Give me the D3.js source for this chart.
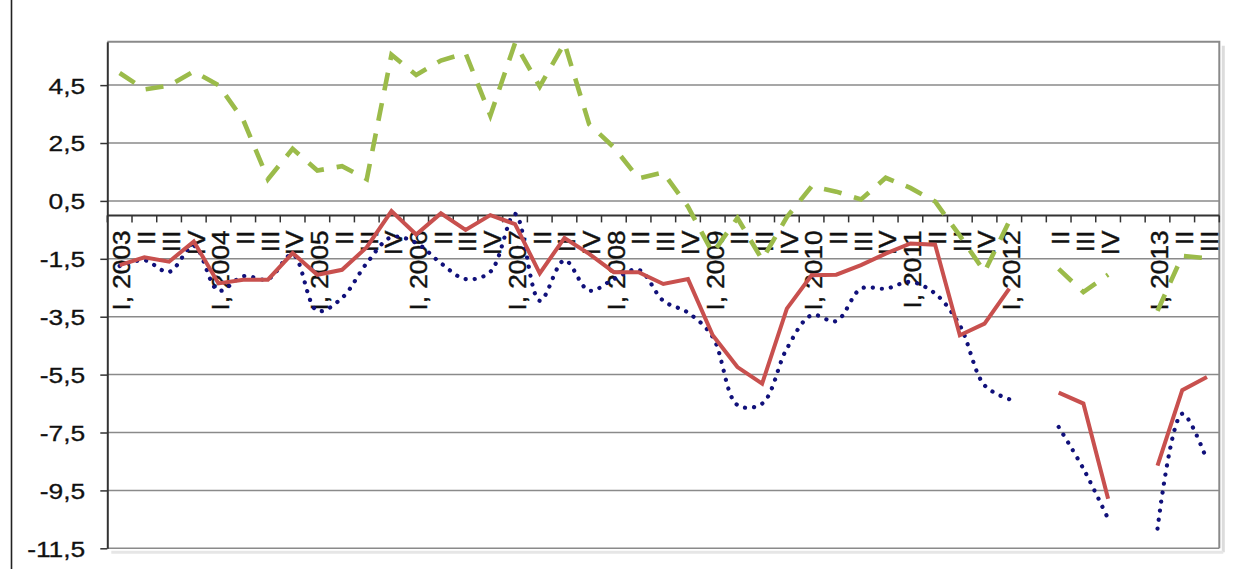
<!DOCTYPE html>
<html>
<head>
<meta charset="utf-8">
<script src="https://cdn.jsdelivr.net/npm/d3@7/dist/d3.min.js"></script>
<style>
  html, body { margin: 0; padding: 0; background: #ffffff; }
  svg { display: block; }
</style>
</head>
<body>
<svg id="chart" width="1234" height="569"></svg>
<script>
// Quarter labels; two empty slots separate the 2012 and 2013 blocks.
const categories = [
  "I, 2003", "II", "III", "IV",
  "I, 2004", "II", "III", "IV",
  "I, 2005", "II", "III", "IV",
  "I, 2006", "II", "III", "IV",
  "I, 2007", "II", "III", "IV",
  "I, 2008", "II", "III", "IV",
  "I, 2009", "II", "III", "IV",
  "I, 2010", "II", "III", "IV",
  "I, 2011", "II", "III", "IV",
  "I, 2012", "", "II", "III", "IV", "",
  "I, 2013", "II", "III"
];

// Solid red series
const redSeries = [
  -1.72, -1.45, -1.60, -0.90,
  -2.35, -2.22, -2.22, -1.30,
  -2.05, -1.88, -1.10, 0.15,
  -0.66, 0.07, -0.50, 0.01,
  -0.30, -2.00, -0.78, -1.33,
  -1.96, -1.96, -2.37, -2.20,
  -4.14, -5.24, -5.81, -3.22,
  -2.07, -2.05, -1.72, -1.32,
  -0.97, -1.01, -4.14, -3.74,
  -2.53, null, -6.12, -6.50, -9.79, null,
  -8.64, -6.04, -5.58
];

// Dotted blue series (smoothed)
const blueSeries = [
  -1.75, -1.55, -1.95, -1.05,
  -2.60, -2.10, -2.20, -1.35,
  -3.30, -2.85, -1.65, -0.75,
  -0.95, -1.65, -2.20, -1.95,
  0.05, -2.95, -1.55, -2.60,
  -2.20, -1.88, -2.95, -3.36,
  -4.20, -6.55, -6.50, -4.60,
  -3.45, -3.65, -2.53, -2.53,
  -2.30, -2.70, -3.80, -5.87,
  -6.35, null, -7.31, -8.75, -10.48, null,
  -10.82, -6.85, -8.46
];

// Dashed green series
const greenSeries = [
  4.92, 4.35, 4.48, 4.97,
  4.50, 3.30, 1.25, 2.30,
  1.55, 1.70, 1.25, 5.55,
  4.85, 5.35, 5.60, 3.45,
  5.95, 4.45, 5.95, 3.15,
  2.35, 1.28, 1.48, 0.30,
  -1.30, -0.09, -1.53, -0.06,
  1.00, 0.82, 0.55, 1.30,
  0.95, 0.48, -0.70, -1.95,
  -0.20, null, -1.85, -2.65, -2.05, null,
  -3.30, -1.40, -1.48
];

const yTicks = [4.5, 2.5, 0.5, -1.5, -3.5, -5.5, -7.5, -9.5, -11.5];
const yMin = -11.5, yMax = 6;

const svg = d3.select("#chart");
const W = 1234, H = 569;
const plot = { left: 107.3, right: 1219.3, top: 41.7, bottom: 548.3 };

const x = d3.scaleBand()
  .domain(d3.range(categories.length))
  .range([plot.left, plot.right])
  .paddingInner(0).paddingOuter(0);

const y = d3.scaleLinear()
  .domain([yMin, yMax])
  .range([plot.bottom, plot.top]);

const locale = d3.formatLocale({ decimal: ",", thousands: " ", grouping: [3], currency: ["", ""], minus: "-" });
const fmt = locale.format(".1f");

// Outer frame line on the left edge of the chart
svg.append("line")
  .attr("x1", 11.5).attr("x2", 11.5)
  .attr("y1", 0).attr("y2", H)
  .attr("stroke", "#222").attr("stroke-width", 1.6);

// Soft shadow along the plot area's right and bottom sides
svg.append("line")
  .attr("x1", plot.right + 4).attr("x2", plot.right + 4)
  .attr("y1", plot.top + 4).attr("y2", plot.bottom + 4)
  .attr("stroke", "#dcdcdc").attr("stroke-width", 3);
svg.append("line")
  .attr("x1", plot.left + 4).attr("x2", plot.right + 4)
  .attr("y1", plot.bottom + 4).attr("y2", plot.bottom + 4)
  .attr("stroke", "#e6e6e6").attr("stroke-width", 3);

// Horizontal gridlines
svg.append("g")
  .selectAll("line")
  .data(yTicks)
  .join("line")
  .attr("x1", plot.left).attr("x2", plot.right)
  .attr("y1", d => y(d)).attr("y2", d => y(d))
  .attr("stroke", "#8a8a8a").attr("stroke-width", 1.5);

// Plot area border (top and right)
svg.append("path")
  .attr("d", `M${plot.left},${plot.top}H${plot.right}V${plot.bottom}`)
  .attr("fill", "none").attr("stroke", "#8a8a8a").attr("stroke-width", 2);

// Y axis
const yAxis = d3.axisLeft(y)
  .tickValues(yTicks)
  .tickSize(7)
  .tickSizeOuter(0)
  .tickFormat(fmt);
const gy = svg.append("g")
  .attr("transform", `translate(${plot.left},0)`)
  .call(yAxis);
gy.select(".domain").attr("stroke", "#333").attr("stroke-width", 2);
gy.selectAll(".tick line").attr("stroke", "#333").attr("stroke-width", 1.5);
gy.selectAll(".tick text")
  .attr("x", 0).attr("dx", 0).attr("dy", "0.36em")
  .attr("text-anchor", "end")
  .attr("transform", "translate(-22,0) scale(1.2,1)")
  .attr("font-family", "'Liberation Sans', Arial, sans-serif")
  .attr("font-size", 22)
  .attr("fill", "#111")
  .attr("stroke", "#111")
  .attr("stroke-width", 0.3);

// X axis along zero, with boundary ticks between categories
const zeroY = y(0);
const gx = svg.append("g");
gx.append("line")
  .attr("x1", plot.left).attr("x2", plot.right)
  .attr("y1", zeroY).attr("y2", zeroY)
  .attr("stroke", "#333").attr("stroke-width", 2);
const boundaries = d3.range(categories.length + 1).map(i =>
  i < categories.length ? x(i) : x(categories.length - 1) + x.bandwidth());
gx.selectAll("line.tick")
  .data(boundaries)
  .join("line")
  .attr("class", "tick")
  .attr("x1", d => d).attr("x2", d => d)
  .attr("y1", zeroY).attr("y2", zeroY + 7)
  .attr("stroke", "#333").attr("stroke-width", 1.5);

gx.selectAll("text")
  .data(categories.map((c, i) => ({ c, i })).filter(d => d.c !== ""))
  .join("text")
  .attr("transform", d => `translate(${x(d.i) + x.bandwidth() / 2 + 2.5},${zeroY + 15}) rotate(-90) scale(1.14,1)`)
  .attr("dy", "0.36em")
  .attr("text-anchor", "end")
  .attr("font-family", "'Liberation Sans', Arial, sans-serif")
  .attr("font-size", 23)
  .attr("fill", "#111")
  .attr("stroke", "#111")
  .attr("stroke-width", 0.4)
  .text(d => d.c);

// Series lines
const cx = i => x(i) + x.bandwidth() / 2;

const straight = d3.line()
  .defined(d => d != null)
  .x((d, i) => cx(i))
  .y(d => y(d));

const smooth = d3.line()
  .defined(d => d != null)
  .curve(d3.curveCatmullRom.alpha(0.5))
  .x((d, i) => cx(i))
  .y(d => y(d));

svg.append("path")
  .datum(greenSeries)
  .attr("d", straight)
  .attr("fill", "none")
  .attr("stroke", "#9bbb4a")
  .attr("stroke-width", 4.6)
  .attr("stroke-dasharray", "18,13");

svg.append("path")
  .datum(blueSeries)
  .attr("d", smooth)
  .attr("fill", "none")
  .attr("stroke", "#10107a")
  .attr("stroke-width", 4.2)
  .attr("stroke-linecap", "round")
  .attr("stroke-dasharray", "0.1,9");

svg.append("path")
  .datum(redSeries)
  .attr("d", straight)
  .attr("fill", "none")
  .attr("stroke", "#c8504e")
  .attr("stroke-width", 4)
  .attr("stroke-linejoin", "miter");
</script>
</body>
</html>
